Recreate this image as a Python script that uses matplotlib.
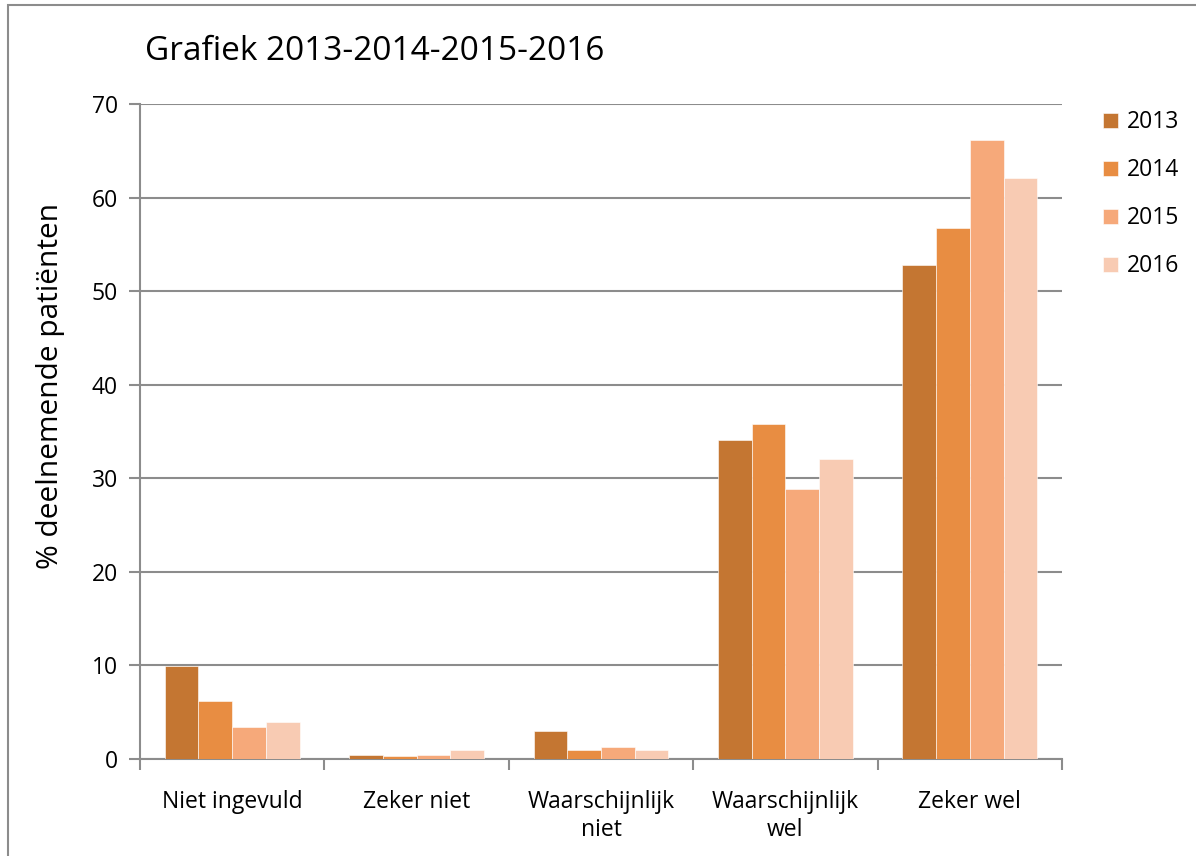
import numpy as np
import matplotlib.pyplot as plt
from matplotlib.patches import Rectangle

plt.rcParams['font.family'] = ['Open Sans', 'DejaVu Sans']

categories = ['Niet ingevuld', 'Zeker niet', 'Waarschijnlijk\nniet', 'Waarschijnlijk\nwel', 'Zeker wel']
years = ['2013', '2014', '2015', '2016']
values = {
    '2013': [9.9, 0.4, 3.0, 34.1, 52.8],
    '2014': [6.2, 0.3, 1.0, 35.8, 56.7],
    '2015': [3.4, 0.4, 1.25, 28.9, 66.2],
    '2016': [4.0, 1.0, 1.0, 32.1, 62.1],
}
colors = ['#C47632', '#E88D42', '#F6A97A', '#F8CBB3']

fig = plt.figure(figsize=(11.96, 8.56), dpi=100)
ax = fig.add_axes([140 / 1196, 1 - 759 / 856, 922 / 1196, 655 / 856])

# outer chart border (only left/top visible in the original)
fig.patches.append(Rectangle((8 / 1196, -0.1), 1.2, 0.1 + 1 - 5 / 856, transform=fig.transFigure,
                             fill=False, edgecolor='#8C8C8C', linewidth=1.5))

x = np.arange(len(categories))
bw = 0.183
for k, yr in enumerate(years):
    ax.bar(x + (k - 1.5) * bw, values[yr], width=bw, color=colors[k], label=yr,
           edgecolor='white', linewidth=0.4, zorder=3)

ax.set_xlim(-0.5, len(categories) - 0.5)
ax.set_ylim(0, 70)
ax.set_yticks(np.arange(0, 71, 10))
ax.yaxis.grid(True, color='#8C8C8C', linewidth=1.5, zorder=0)
ax.set_xticks(x)
ax.set_xticklabels(categories, fontsize=16.5, linespacing=1.25)
ax.set_xticks(np.arange(-0.5, len(categories)), minor=True)
ax.tick_params(axis='x', which='major', length=0, pad=22)
ax.tick_params(axis='x', which='minor', length=8, width=1.5, color='#8C8C8C')
ax.tick_params(axis='y', length=8, width=1.5, color='#8C8C8C', labelsize=16.5, pad=8)

for s in ['top', 'right']:
    ax.spines[s].set_visible(False)
ax.spines['right'].set_visible(True)
ax.spines['right'].set_bounds(0, 0)
for s in ['left', 'bottom']:
    ax.spines[s].set_color('#8C8C8C')
    ax.spines[s].set_linewidth(1.5)

fig.text(51 / 1196, 1 - 386 / 856, '% deelnemende patiënten', fontsize=21.5,
         rotation=90, ha='center', va='center')
fig.text(145 / 1196, 1 - 51 / 856, 'Grafiek 2013-2014-2015-2016', fontsize=24, va='center')

ax.legend(loc='upper left', bbox_to_anchor=(1.022, 1.022), frameon=False, fontsize=16.5,
          handlelength=0.65, handleheight=0.65, labelspacing=1.05, handletextpad=0.4)

fig.savefig('out.png', dpi=100)
